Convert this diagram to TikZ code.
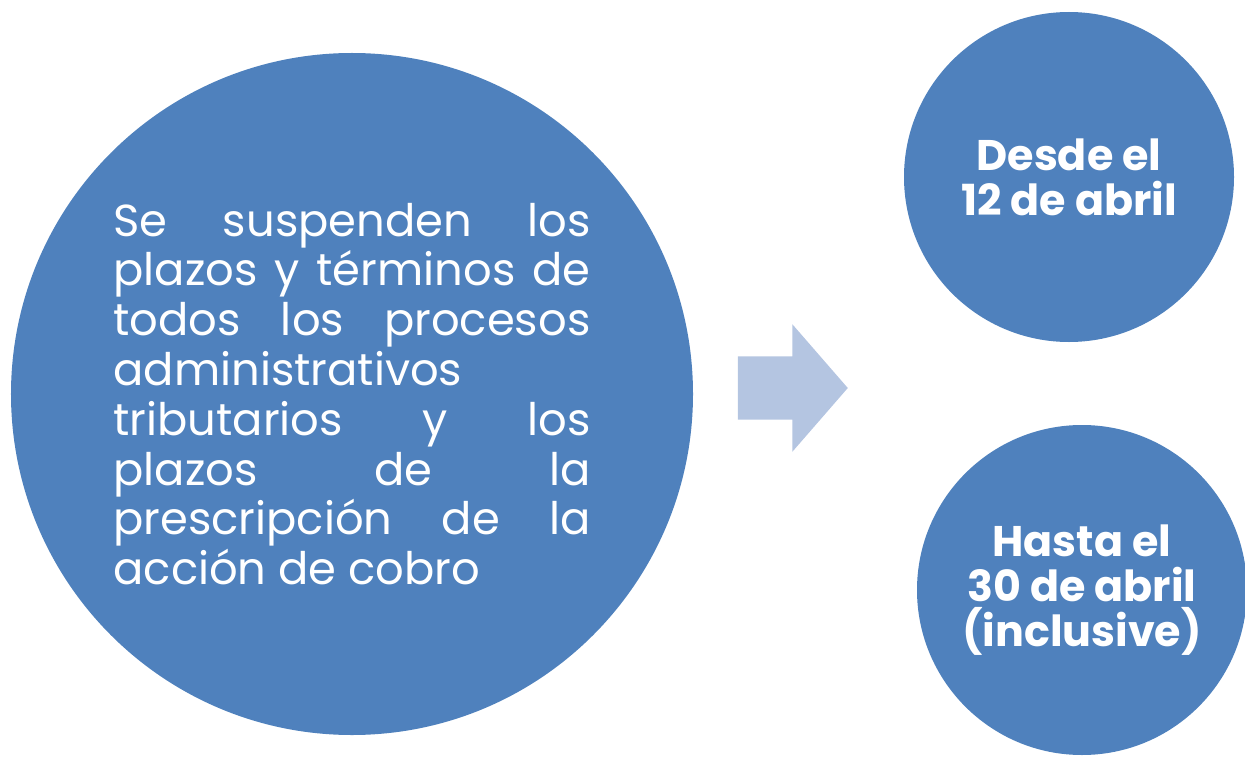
\documentclass[tikz,border=0pt]{standalone}
\usepackage{fontspec}
\setmainfont{Poppins}
\usetikzlibrary{positioning, shapes.arrows}
\definecolor{spBlue}{HTML}{4F81BD}
\definecolor{spPale}{HTML}{B4C5E1}
\newcommand{\jline}[1]{\makebox[477bp][s]{#1}}
\tikzset{
  bigdot/.style={
    circle, fill=spBlue, text=white, inner sep=0pt,
    minimum size=682bp, align=left,
    font=\fontsize{45}{50}\selectfont
  },
  datedot/.style={
    circle, fill=spBlue, text=white, inner sep=0pt,
    minimum size=330bp, align=center,
    font=\fontsize{43}{45.5}\selectfont\bfseries
  },
  pointer/.style={
    single arrow, fill=spPale, inner xsep=0pt, inner ysep=31.5bp,
    minimum height=110bp, single arrow head extend=32bp,
    single arrow head indent=0pt, single arrow tip angle=98
  },
}

\begin{document}
\begin{tikzpicture}[x=1bp, y=-1bp]
  \clip (0,0) rectangle (1245,758);
  \node[bigdot] (susp) at (352,394) {%
    \jline{Se suspenden los}\\
    \jline{plazos y términos de}\\
    \jline{todos los procesos}\\
    administrativos\\
    \jline{tributarios y los}\\
    \jline{plazos de la}\\
    \jline{prescripción de la}\\
    acción de cobro};
  \node[pointer] (arr) at (779,388) {};
  \node[datedot] (desde) at (1069,177) {Desde el\\12 de abril};
  \node[datedot] (hasta) at (1082,590) {Hasta el\\30 de abril\\(inclusive)};
\end{tikzpicture}
\end{document}
